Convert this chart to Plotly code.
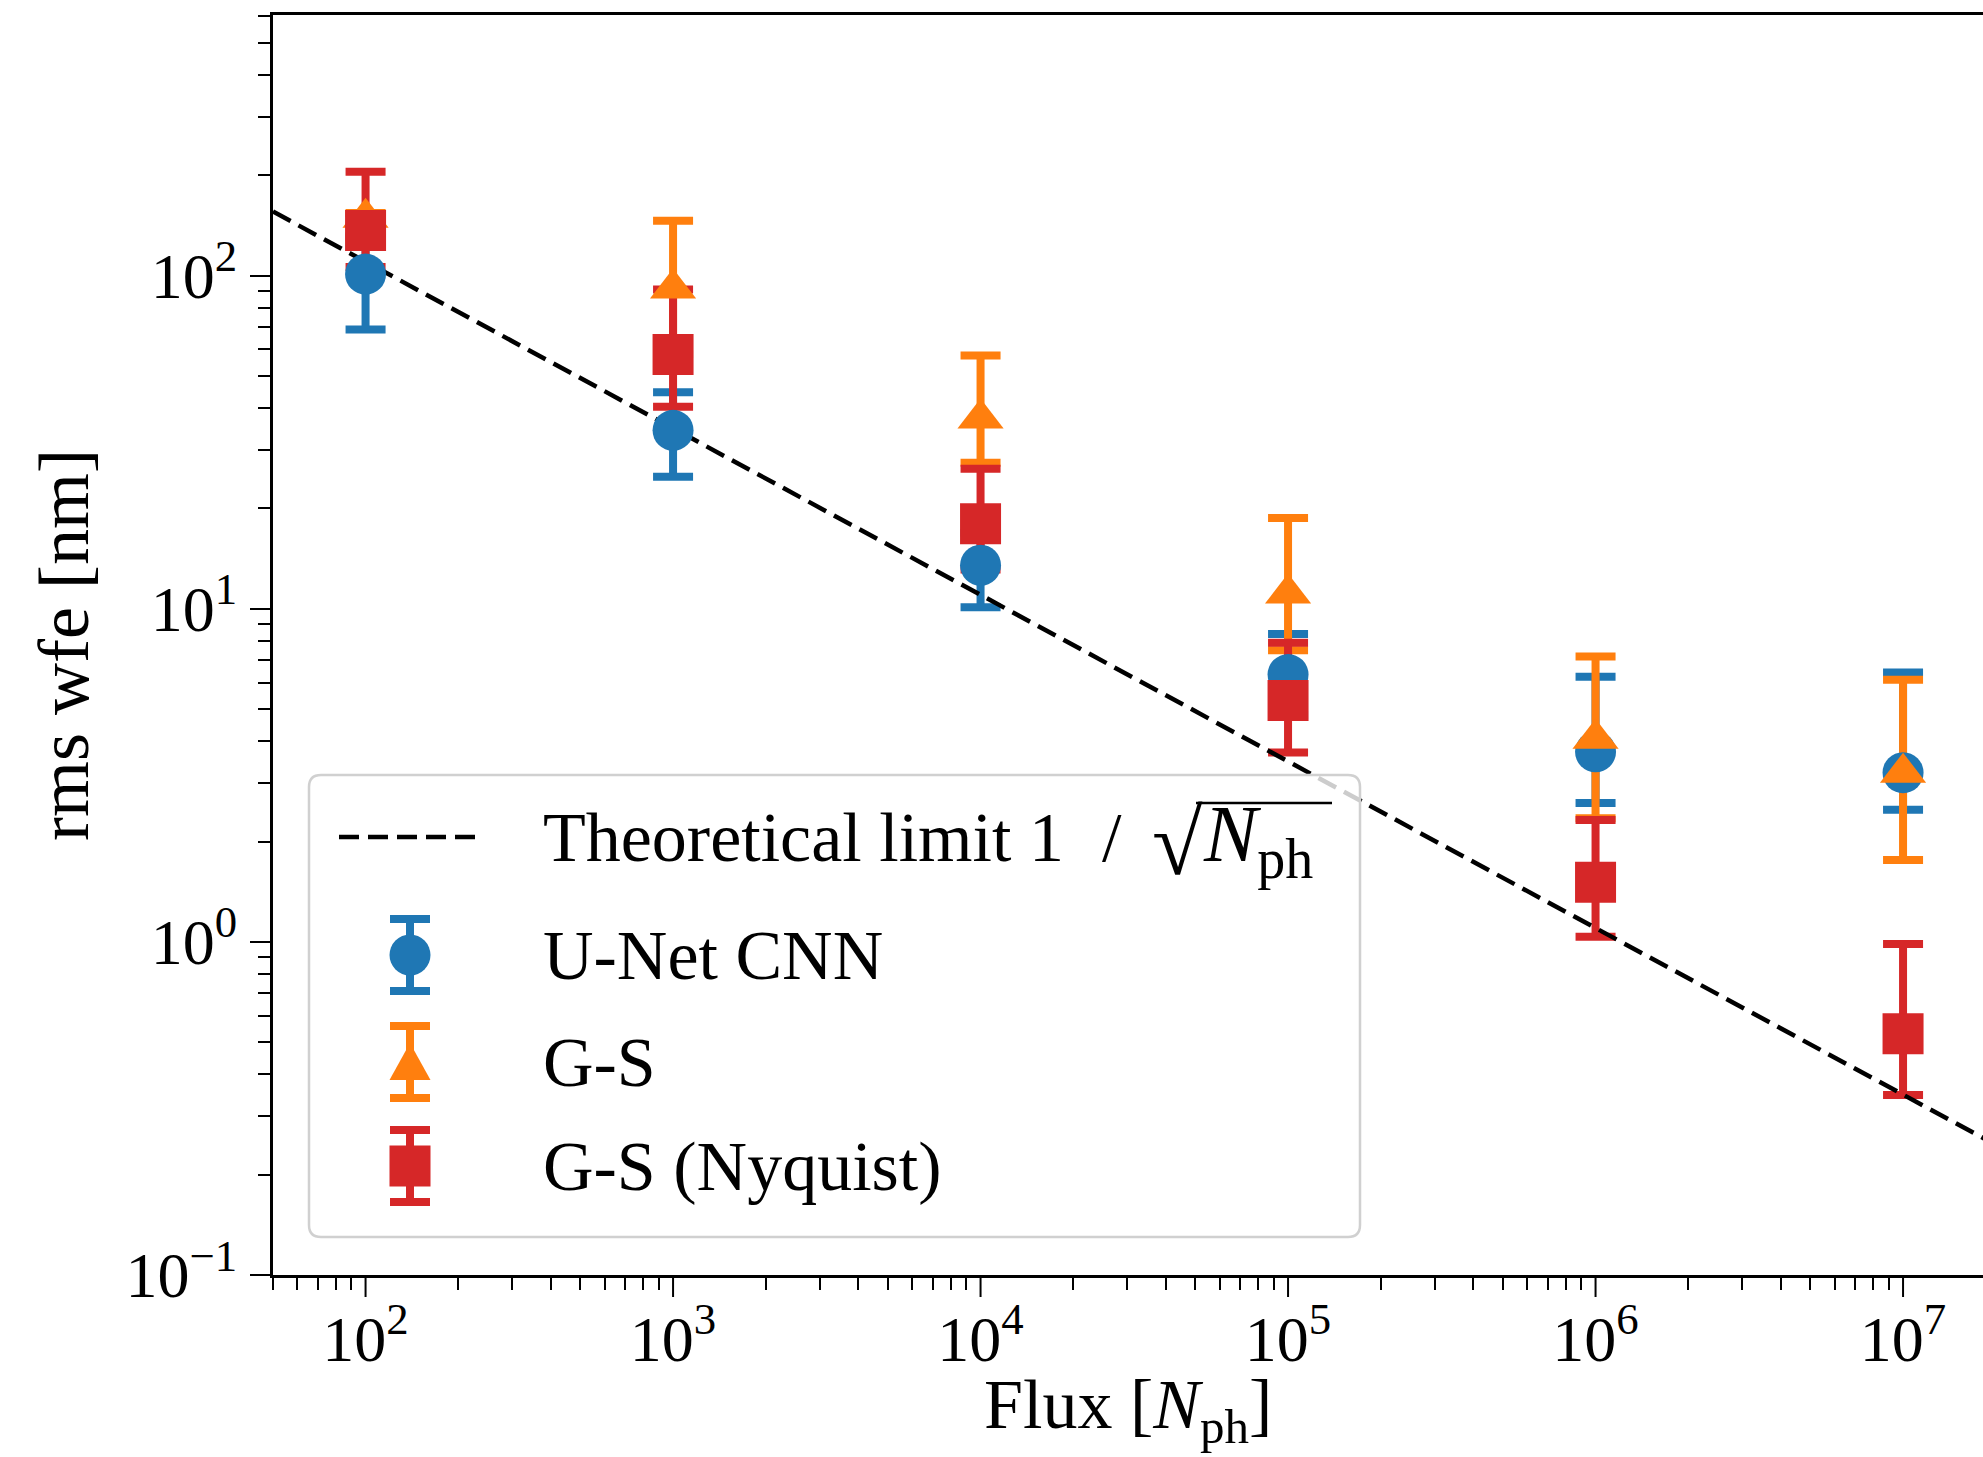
import plotly.graph_objects as go

# ---- measured rms wavefront error versus photon flux ----
FLUX = [1e2, 1e3, 1e4, 1e5, 1e6, 1e7]

UNET = [101, 34.3, 13.5, 6.34, 3.72, 3.22]
UNET_HI = [131, 44.6, 16.9, 8.4, 6.25, 6.43]
UNET_LO = [68.9, 24.9, 10.1, 4.8, 2.61, 2.49]

GS = [149, 91.4, 37.2, 11.1, 4.07, 3.22]
GS_HI = [154, 146, 57.5, 18.7, 7.18, 6.12]
GS_LO = [130, 58, 27.4, 7.5, 2.35, 1.76]

NYQ = [136.5, 57.9, 18.0, 5.30, 1.51, 0.530]
NYQ_HI = [205, 90.8, 26.3, 7.9, 2.32, 0.986]
NYQ_LO = [106, 40.4, 13.1, 3.70, 1.035, 0.347]

# theoretical photon-noise limit, ~1/sqrt(N_ph)
THEORY_FLUX = [50, 1e2, 1e3, 1e4, 1e5, 1e6, 1e7, 2e7]
THEORY_WFE = [155.6, 110, 34.8, 11.0, 3.48, 1.10, 0.348, 0.246]

X_TICKS = [1e2, 1e3, 1e4, 1e5, 1e6, 1e7]
X_TICK_TEXT = ["10<sup>2</sup>", "10<sup>3</sup>", "10<sup>4</sup>",
               "10<sup>5</sup>", "10<sup>6</sup>", "10<sup>7</sup>"]
Y_TICKS = [1e-1, 1e0, 1e1, 1e2]
Y_TICK_TEXT = ["10<sup>\u22121</sup>", "10<sup>0</sup>", "10<sup>1</sup>", "10<sup>2</sup>"]

SERIES_NAMES = ["U-Net CNN", "G-S", "G-S (Nyquist)"]

BLUE, ORANGE, RED = "#1f77b4", "#ff7f0e", "#d62728"
FONT = "Liberation Serif"
TXT = 70
DASH = "20px,9px"

# page geometry (pixels)
W, H = 1983, 1457
L, R, T, B = 273, 1983, 15, 1275


def px(x):
    return (x - L) / (R - L)


def py(y):
    return (B - y) / (B - T)


fig = go.Figure()

series = [
    (UNET, UNET_HI, UNET_LO, BLUE, "circle", 41),
    (GS, GS_HI, GS_LO, ORANGE, "triangle-up", 40),
    (NYQ, NYQ_HI, NYQ_LO, RED, "square", 41),
]

# error bars first (under the limit line)
for vals, hi, lo, color, symbol, size in series:
    fig.add_trace(go.Scatter(
        x=FLUX, y=vals, mode="markers",
        marker=dict(color="rgba(0,0,0,0)", size=1),
        error_y=dict(type="data", symmetric=False,
                     array=[h - v for h, v in zip(hi, vals)],
                     arrayminus=[v - l for v, l in zip(vals, lo)],
                     color=color, thickness=8, width=20),
        showlegend=False, hoverinfo="skip",
    ))

# theoretical limit
fig.add_trace(go.Scatter(
    x=THEORY_FLUX, y=THEORY_WFE, mode="lines",
    line=dict(color="black", width=4.5, dash=DASH),
    showlegend=False,
))

# markers on top
for (vals, hi, lo, color, symbol, size), name in zip(series, SERIES_NAMES):
    fig.add_trace(go.Scatter(
        x=FLUX, y=vals, mode="markers", name=name,
        marker=dict(color=color, symbol=symbol, size=size, line=dict(width=0)),
        showlegend=False,
    ))

shapes = []

# long major ticks on the flux axis
for xv in X_TICKS:
    shapes.append(dict(type="line", xref="x", yref="paper", ysizemode="pixel", yanchor=0,
                       x0=xv, x1=xv, y0=0, y1=-22, line=dict(color="black", width=2)))

# ---- legend box ----
bx0, by0, bx1, by1, rad = 309, 775, 1360, 1237, 12
path = (f"M {px(bx0 + rad)},{py(by0)} L {px(bx1 - rad)},{py(by0)} "
        f"Q {px(bx1)},{py(by0)} {px(bx1)},{py(by0 + rad)} "
        f"L {px(bx1)},{py(by1 - rad)} Q {px(bx1)},{py(by1)} {px(bx1 - rad)},{py(by1)} "
        f"L {px(bx0 + rad)},{py(by1)} Q {px(bx0)},{py(by1)} {px(bx0)},{py(by1 - rad)} "
        f"L {px(bx0)},{py(by0 + rad)} Q {px(bx0)},{py(by0)} {px(bx0 + rad)},{py(by0)} Z")
shapes.append(dict(type="path", xref="paper", yref="paper", path=path, layer="above",
                   fillcolor="rgba(255,255,255,0.8)", line=dict(color="#d0d0d0", width=2.5)))

# legend keys
ROW_Y = [837, 955, 1062, 1166]
KEY_X = 410
shapes.append(dict(type="line", xref="paper", yref="paper", layer="above",
                   x0=px(339), x1=px(481), y0=py(ROW_Y[0]), y1=py(ROW_Y[0]),
                   line=dict(color="black", width=4.5, dash=DASH)))


def key_errorbar(yc, color, half=36, cap=20):
    out = [dict(type="line", xref="paper", yref="paper", layer="above",
                x0=px(KEY_X), x1=px(KEY_X), y0=py(yc - half), y1=py(yc + half),
                line=dict(color=color, width=8))]
    for yy in (yc - half, yc + half):
        out.append(dict(type="line", xref="paper", yref="paper", layer="above",
                        x0=px(KEY_X - cap), x1=px(KEY_X + cap), y0=py(yy), y1=py(yy),
                        line=dict(color=color, width=8)))
    return out


shapes += key_errorbar(ROW_Y[1], BLUE)
shapes.append(dict(type="circle", xref="paper", yref="paper", layer="above",
                   x0=px(KEY_X - 20.5), x1=px(KEY_X + 20.5),
                   y0=py(ROW_Y[1] - 20.5), y1=py(ROW_Y[1] + 20.5),
                   fillcolor=BLUE, line=dict(width=0)))
shapes += key_errorbar(ROW_Y[2], ORANGE)
yc = ROW_Y[2]
shapes.append(dict(type="path", xref="paper", yref="paper", layer="above",
                   path=(f"M {px(KEY_X)},{py(yc - 19)} L {px(KEY_X + 20.5)},{py(yc + 18)} "
                         f"L {px(KEY_X - 20.5)},{py(yc + 18)} Z"),
                   fillcolor=ORANGE, line=dict(width=0)))
shapes += key_errorbar(ROW_Y[3], RED)
shapes.append(dict(type="rect", xref="paper", yref="paper", layer="above",
                   x0=px(KEY_X - 20.5), x1=px(KEY_X + 20.5),
                   y0=py(ROW_Y[3] - 20.5), y1=py(ROW_Y[3] + 20.5),
                   fillcolor=RED, line=dict(width=0)))

# vinculum of the square root in the first legend label
shapes.append(dict(type="line", xref="paper", yref="paper", layer="above",
                   x0=px(1196), x1=px(1332), y0=py(803), y1=py(803),
                   line=dict(color="black", width=2.5)))


def ann(text, x, y, xanchor="left", size=TXT, **kw):
    return dict(text=text, xref="paper", yref="paper", x=px(x), y=py(y),
                xanchor=xanchor, yanchor="middle", showarrow=False,
                font=dict(family=FONT, size=size, color="black"), **kw)


annotations = [
    ann("Theoretical limit 1", 541, ROW_Y[0]),
    ann("/", 1100, ROW_Y[0]),
    ann("\u221a", 1150, ROW_Y[0] + 6, size=92),
    ann("<i>N</i><sub>ph</sub>", 1201, ROW_Y[0] + 3, size=80),
]
for txt, yy in zip(SERIES_NAMES, ROW_Y[1:]):
    annotations.append(ann(txt, 541, yy))

# axis titles
annotations.append(ann("Flux [<i>N</i><sub>ph</sub>]", 1128, 1410, xanchor="center"))
annotations.append(ann("rms wfe [nm]", 64, 645, xanchor="center", textangle=-90, size=72))

x_minor = [m * 10 ** e for e in range(1, 8) for m in range(2, 10) if 50 <= m * 10 ** e <= 1.8e7]
y_minor = [m * 10 ** e for e in range(-1, 3) for m in range(2, 10) if m * 10 ** e <= 605]

fig.update_layout(
    width=W, height=H,
    margin=dict(l=L, r=W - R, t=T, b=H - B),
    paper_bgcolor="white", plot_bgcolor="white",
    showlegend=False,
    shapes=shapes, annotations=annotations,
    font=dict(family=FONT, color="black"),
)
fig.update_xaxes(
    type="log", range=[1.699, 7.26],
    showgrid=False, zeroline=False,
    showline=True, linecolor="black", linewidth=3, mirror=True,
    tickmode="array", tickvals=X_TICKS, ticktext=X_TICK_TEXT,
    ticks="", ticklabelstandoff=6,
    tickfont=dict(family=FONT, size=64, color="black"),
    minor=dict(tickmode="array", tickvals=x_minor, ticks="outside", ticklen=12,
               tickwidth=1.6, tickcolor="black", showgrid=False),
)
fig.update_yaxes(
    type="log", range=[-1, 2.782],
    showgrid=False, zeroline=False,
    showline=True, linecolor="black", linewidth=3, mirror=False,
    tickmode="array", tickvals=Y_TICKS, ticktext=Y_TICK_TEXT,
    ticks="outside", ticklen=20, tickwidth=2, tickcolor="black",
    tickfont=dict(family=FONT, size=64, color="black"),
    minor=dict(tickmode="array", tickvals=y_minor, ticks="outside", ticklen=12,
               tickwidth=1.6, tickcolor="black", showgrid=False),
)

fig.write_html("out.html")
